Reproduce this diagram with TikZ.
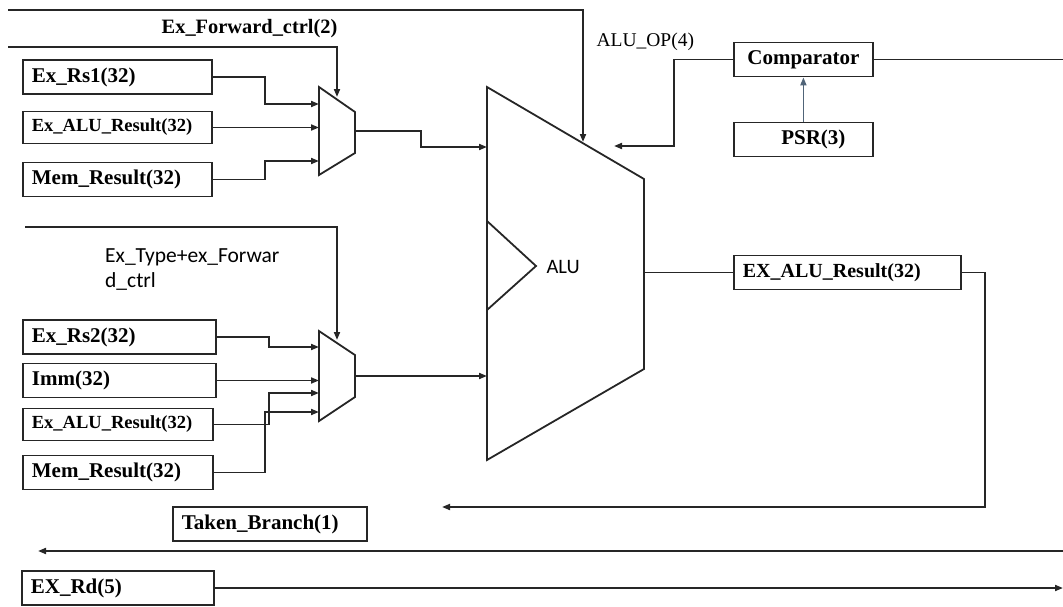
\documentclass[tikz,border=0pt]{standalone}
\usepackage{fontspec}
\setmainfont{Liberation Serif}
\newfontfamily\calib{Carlito}
\usetikzlibrary{arrows.meta}

\definecolor{slate}{RGB}{80,100,120}

\tikzset{
  wire/.style={line width=1.8pt, draw=black!85},
  sig/.style={wire, -{Triangle[length=8pt,width=6pt]}},
  regbox/.style={draw=black!85, line width=1.8pt, minimum height=34pt, inner xsep=9pt, inner ysep=0pt,
    align=left, anchor=west, font=\fontsize{21}{24}\selectfont\bfseries},
  smallbox/.style={regbox, minimum height=32pt, font=\fontsize{18.5}{22}\selectfont\bfseries},
}

\begin{document}
\begin{tikzpicture}[x=1pt, y=-1pt]
  \useasboundingbox (0,0) rectangle (1063,606);

  \node[regbox, text width=171pt] (rsA) at (22,77) {Ex\_Rs1(32)};
  \node[smallbox, text width=171pt] (aluA) at (22,127.5) {Ex\_ALU\_Result(32)};
  \node[regbox, text width=171pt] (memA) at (22,179.5) {Mem\_Result(32)};
  \node[regbox, text width=175pt] (rsB) at (22,337) {Ex\_Rs2(32)};
  \node[regbox, text width=175pt] (immB) at (22,380.5) {Imm(32)};
  \node[smallbox, text width=172pt] (aluB) at (22,424.5) {Ex\_ALU\_Result(32)};
  \node[regbox, text width=172pt] (memB) at (22,472.5) {Mem\_Result(32)};
  \node[regbox, text width=176pt] (taken) at (172,524) {Taken\_Branch(1)};
  \node[regbox, text width=174pt] (rd) at (21,588) {EX\_Rd(5)};
  \node[regbox, text width=121pt, align=center] (comp) at (733,59.5) {Comparator};
  \node[regbox, text width=121pt, align=center] (psr) at (733,139.5) {\hspace*{20pt}PSR(3)};
  \node[regbox, text width=209pt, font=\fontsize{20}{24}\selectfont\bfseries] (exres) at (733,272.5) {EX\_ALU\_Result(32)};

  \draw[wire] (319,87) -- (355,112) -- (355,153) -- (319,175) -- cycle;
  \draw[wire] (319,331) -- (355,355) -- (355,397) -- (319,421) -- cycle;
  \draw[wire] (487,87) -- (644,179) -- (644,369) -- (487,460) -- cycle;
  \draw[wire] (487,221) -- (536,266) -- (487,310);

  \node[font=\fontsize{20.4}{24}\selectfont\bfseries] (fwdA) at (249.5,29) {Ex\_Forward\_ctrl(2)};
  \node[anchor=west, align=left, inner sep=0pt, font=\calib\fontsize{21.5}{25}\selectfont] (fwdB) at (105,270) {Ex\_Type+ex\_Forwar\\d\_ctrl};
  \node[anchor=west, font=\fontsize{19.5}{24}\selectfont] (opl) at (593,42) {ALU\_OP(4)};
  \node[anchor=west, font=\calib\fontsize{20.5}{24}\selectfont] (alul) at (543,267) {ALU};

  \coordinate (opsrc) at (8,10);
  \coordinate (aluop) at (583,142);
  \coordinate (fwdsrcA) at (8,47);
  \coordinate (muxAsel) at (337,97);
  \coordinate (fwdsrcB) at (25,227);
  \coordinate (muxBsel) at (337,340);
  \coordinate (muxAin1) at (319,104);
  \coordinate (muxAin2) at (319,127.5);
  \coordinate (muxAin3) at (319,161);
  \coordinate (muxAout) at (355,131);
  \coordinate (muxBin1) at (319,347);
  \coordinate (muxBin2) at (319,380.5);
  \coordinate (muxBin3) at (319,393);
  \coordinate (muxBin4) at (319,412);
  \coordinate (muxBout) at (355,376);
  \coordinate (aluinA) at (487,147);
  \coordinate (aluinB) at (487,376);
  \coordinate (aluout) at (644,272.5);
  \coordinate (cmpin) at (614,146);
  \coordinate (fbtip) at (442,507);
  \coordinate (cmpout) at (1063,59.5);
  \coordinate (brsrc) at (1063,551);
  \coordinate (brtip) at (38,551);
  \coordinate (rdout) at (1063,588);

  \draw[sig] (opsrc) -| (aluop);
  \draw[sig] (fwdsrcA) -| (muxAsel);
  \draw[sig] (fwdsrcB) -| (muxBsel);
  \draw[sig] (rsA.east) -- ++(52,0) |- (muxAin1);
  \draw[sig] (aluA.east) -- (muxAin2);
  \draw[sig] (memA.east) -- ++(52,0) |- (muxAin3);
  \draw[sig] (muxAout) -- ++(66,0) |- (aluinA);
  \draw[sig] (rsB.east) -- ++(52,0) |- (muxBin1);
  \draw[sig] (immB.east) -- (muxBin2);
  \draw[sig] (aluB.east) -- ++(55,0) |- (muxBin3);
  \draw[sig] (memB.east) -- ++(51,0) |- (muxBin4);
  \draw[sig] (muxBout) -- (aluinB);
  \draw[wire] (aluout) -- (exres.west);
  \draw[sig] (exres.east) -- ++(23,0) |- (fbtip);
  \draw[sig] (comp.west) -- ++(-59,0) |- (cmpin);
  \draw[wire] (comp.east) -- (cmpout);
  \draw[sig, draw=slate, fill=slate] (psr.north) -- (comp.south);
  \draw[sig] (brsrc) -- (brtip);
  \draw[sig] (rd.east) -- (rdout);
\end{tikzpicture}
\end{document}
